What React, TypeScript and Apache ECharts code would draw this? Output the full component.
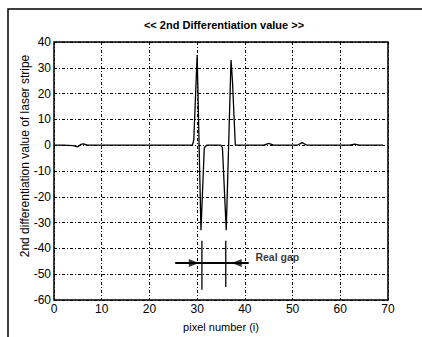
import React, { useEffect, useRef } from "react";
import * as echarts from "echarts";

const xTicks = [0, 10, 20, 30, 40, 50, 60, 70];
const yTicks = [40, 30, 20, 10, 0, -10, -20, -30, -40, -50, -60];

// 2nd differentiation signal: [pixel number, value]
const pixelX = [0, 2, 4, 5, 5.6, 6.2, 7, 20, 29, 29.3, 30, 30.8, 31.5, 32, 35, 35.3, 36.1, 37.1, 37.4, 38, 44, 45, 46, 51, 52, 53, 62, 63, 64, 69];
const diffValue = [0, 0, -0.2, -0.6, 0.3, 0.5, 0, 0, 0, 2, 35, -33, -1, 0, 0, -1, -33, 33, 25, 0, 0, 0.7, 0, 0, 1, 0, 0, 0.4, 0, 0];

// gap annotation
const gapEdges = [31, 36];
const gapLineTop = -37;
const gapLineBottom = [-56, -55];
const arrowY = -45.7;
const arrowStart = 25.4;
const arrowEnd = 40.8;
const arrowHeads = [29.3, 38.3];
const gapLabel = "Real gap";
const gapLabelPos = [42.1, -43.4];

export default function App() {
  const ref = useRef<HTMLDivElement>(null);
  useEffect(() => {
    if (!ref.current) return;
    const chart = echarts.init(ref.current, null, { renderer: "svg" });
    const font = "Liberation Sans, Arial, sans-serif";
    const signal = pixelX.map((x, i) => [x, diffValue[i]]);
    const lineStyle = { color: "#000", width: 1.3 };
    const series: any[] = [
      {
        type: "line",
        data: signal,
        showSymbol: false,
        symbol: "none",
        lineStyle,
        z: 5,
      },
    ];
    gapEdges.forEach((gx, i) => {
      series.push({
        type: "line",
        data: [
          [gx, gapLineTop],
          [gx, gapLineBottom[i]],
        ],
        symbol: "none",
        lineStyle: { color: "#000", width: 1.3 },
        z: 6,
      });
    });
    series.push({
      type: "line",
      data: [
        [arrowStart, arrowY],
        [arrowEnd, arrowY],
      ],
      symbol: "none",
      lineStyle: { color: "#000", width: 2 },
      z: 6,
    });
    series.push({
      type: "scatter",
      data: [
        { value: [arrowHeads[0], arrowY], symbolRotate: -90 },
        { value: [arrowHeads[1], arrowY], symbolRotate: 90 },
      ],
      symbol: "triangle",
      symbolSize: [8, 10],
      itemStyle: { color: "#000" },
      z: 7,
    });
    series.push({
      type: "scatter",
      data: [gapLabelPos],
      symbolSize: 1,
      itemStyle: { color: "transparent" },
      label: {
        show: true,
        position: "right",
        distance: 0,
        formatter: gapLabel,
        color: "#000",
        fontFamily: font,
        fontWeight: "bold",
        fontSize: 10.5,
      },
      z: 7,
    });

    chart.setOption({
      animation: false,
      backgroundColor: "#fff",
      title: {
        text: "<< 2nd Differentiation value >>",
        left: 219,
        top: 14,
        textAlign: "center",
        textStyle: { fontFamily: font, fontSize: 11, fontWeight: "bold", color: "#000" },
      },
      graphic: [
        {
          type: "polyline",
          shape: { points: [[8, 337], [8, 9], [422, 9]] },
          style: { stroke: "#000", lineWidth: 1.5, fill: "none" },
        },
        {
          type: "text",
          x: 25,
          y: 156,
          rotation: Math.PI / 2,
          style: {
            text: "2nd differentiation value of laser stripe",
            align: "center",
            verticalAlign: "middle",
            fontFamily: font,
            fontSize: 12,
            fill: "#000",
          },
        },
      ],
      grid: {
        left: 54,
        top: 42,
        right: 34,
        bottom: 30,
        show: true,
        borderColor: "#000",
        borderWidth: 1.5,
        backgroundColor: "#fff",
      },
      xAxis: {
        type: "value",
        min: xTicks[0],
        max: xTicks[xTicks.length - 1],
        interval: 10,
        name: "pixel number (i)",
        nameLocation: "middle",
        nameGap: 21,
        nameTextStyle: { fontFamily: font, fontSize: 11, color: "#000" },
        axisLine: { show: false },
        axisTick: { show: false },
        axisLabel: { fontFamily: font, fontSize: 12, color: "#000", margin: 3 },
        splitLine: { show: true, lineStyle: { color: "#000", type: [3, 2, 1, 2], width: 1 } },
      },
      yAxis: {
        type: "value",
        min: yTicks[yTicks.length - 1],
        max: yTicks[0],
        interval: 10,
        axisLine: { show: false },
        axisTick: { show: false },
        axisLabel: { fontFamily: font, fontSize: 12, color: "#000", margin: 3 },
        splitLine: { show: true, lineStyle: { color: "#000", type: [3, 2, 1, 2], width: 1 } },
      },
      series,
    });
    return () => chart.dispose();
  }, []);
  return (
    <div
      ref={ref}
      style={{ position: "fixed", left: 0, top: 0, width: 422, height: 337, background: "#fff" }}
    />
  );
}
